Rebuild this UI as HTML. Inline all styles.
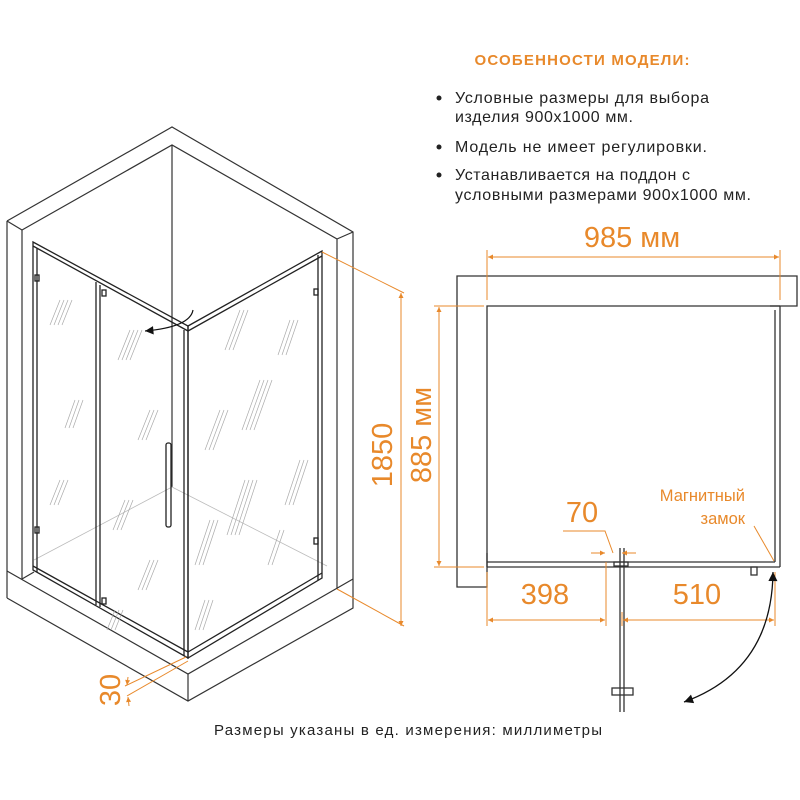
<!DOCTYPE html>
<html><head><meta charset="utf-8"><style>
html,body{margin:0;padding:0;background:#fff;}
svg{display:block;font-family:"Liberation Sans",sans-serif;}
</style></head><body>
<svg width="800" height="800" viewBox="0 0 800 800" xmlns="http://www.w3.org/2000/svg">
<defs>
<marker id="oa" viewBox="0 0 10 10" refX="10" refY="5" markerWidth="7" markerHeight="5" orient="auto-start-reverse"><path d="M0,0L10,5L0,10z" fill="#e8892b"/></marker>
<marker id="ba" viewBox="0 0 10 10" refX="10" refY="5" markerWidth="9" markerHeight="7" orient="auto-start-reverse"><path d="M0,0L10,5L0,10z" fill="#111"/></marker>
</defs>
<rect width="800" height="800" fill="#fff"/>
<!-- header texts -->
<text x="582" y="65" text-anchor="middle" font-size="15" font-weight="bold" fill="#e8892b" textLength="215">ОСОБЕННОСТИ МОДЕЛИ:</text>
<g font-size="16" fill="#222">
<circle cx="439" cy="98" r="2.5" fill="#222"/>
<text x="455" y="103" textLength="254">Условные размеры для выбора</text>
<text x="455" y="122" textLength="178">изделия 900x1000 мм.</text>
<circle cx="439" cy="147" r="2.5" fill="#222"/>
<text x="455" y="152" textLength="252">Модель не имеет регулировки.</text>
<circle cx="439" cy="175" r="2.5" fill="#222"/>
<text x="455" y="180" textLength="235">Устанавливается на поддон с</text>
<text x="455" y="200" textLength="296">условными размерами 900x1000 мм.</text>
</g>
<text x="408" y="735" text-anchor="middle" font-size="15" fill="#222" textLength="388">Размеры указаны в ед. измерения: миллиметры</text>

<!-- ISO drawing -->
<g fill="none" stroke="#333" stroke-width="1.2">
<polyline points="7,221 172,127 353,232 353,579"/>
<polyline points="22,230 172,145 337,239 337,589"/>
<line x1="7" y1="221" x2="22" y2="230"/>
<line x1="353" y1="232" x2="337" y2="239"/>
<line x1="172" y1="145" x2="172" y2="487"/>
<line x1="7" y1="221" x2="7" y2="598"/>
<line x1="22" y1="230" x2="22" y2="579"/>
<polyline points="7,571 188,674 353,579"/>
<polyline points="7,598 188,701 353,608 353,579"/>
<line x1="188" y1="674" x2="188" y2="701"/>
<line x1="22" y1="579" x2="34" y2="572"/>
</g>
<g fill="none" stroke="#bbb" stroke-width="0.8">
<line x1="172" y1="487" x2="34" y2="560"/>
<line x1="172" y1="487" x2="327" y2="566"/>
</g>
<!-- glass frames -->
<g fill="none" stroke="#222" stroke-width="1.3">
<polygon points="33,242 188,326 188,658 33,570"/>
<line x1="37" y1="248" x2="37" y2="572"/>
<polygon points="188,326 322,251 322,578 188,658"/>
<line x1="184" y1="330" x2="184" y2="656"/>
<line x1="318" y1="255" x2="318" y2="580"/>
<line x1="33" y1="246" x2="188" y2="331"/>
<line x1="188" y1="331" x2="322" y2="256"/>
<line x1="96" y1="282" x2="96" y2="605"/>
<line x1="100" y1="285" x2="100" y2="607"/>
<line x1="33" y1="566" x2="188" y2="652"/>
<line x1="188" y1="652" x2="322" y2="573"/>
<rect x="166" y="443" width="5" height="84" rx="2"/>
<rect x="35" y="275" width="4" height="6"/><rect x="35" y="527" width="4" height="6"/>
<rect x="314" y="289" width="4" height="6"/><rect x="314" y="538" width="4" height="6"/>
<rect x="102" y="290" width="4" height="6"/><rect x="102" y="598" width="4" height="6"/>
</g>
<!-- glass hatches -->
<g stroke="#aaa" stroke-width="0.7">
<path d="M60,300l-10,25M64,300l-10,25M68,300l-10,25M72,300l-10,25M75,400l-10,28M79,400l-10,28M83,400l-10,28M60,480l-10,25M64,480l-10,25M68,480l-10,25M130,330l-12,30M134,330l-12,30M138,330l-12,30M142,330l-12,30M150,410l-12,30M154,410l-12,30M158,410l-12,30M125,500l-12,30M129,500l-12,30M133,500l-12,30M150,560l-12,30M154,560l-12,30M158,560l-12,30M115,610l-8,20M119,610l-8,20M123,610l-8,20"/>
<path d="M240,310l-15,40M244,310l-15,40M248,310l-15,40M260,380l-18,50M264,380l-18,50M268,380l-18,50M272,380l-18,50M220,410l-15,40M224,410l-15,40M228,410l-15,40M290,320l-12,35M294,320l-12,35M298,320l-12,35M300,460l-15,45M304,460l-15,45M308,460l-15,45M245,480l-18,55M249,480l-18,55M253,480l-18,55M257,480l-18,55M210,520l-15,45M214,520l-15,45M218,520l-15,45M280,530l-12,35M284,530l-12,35M205,600l-10,30M209,600l-10,30M213,600l-10,30"/>
</g>
<!-- door arrow -->
<path d="M193,310 Q190,327 145,331" fill="none" stroke="#111" stroke-width="1.2" marker-end="url(#ba)"/>
<!-- orange dims iso -->
<g stroke="#e8892b" stroke-width="1" fill="none">
<line x1="322" y1="252" x2="404" y2="293"/>
<line x1="337" y1="589" x2="404" y2="626"/>
<line x1="401" y1="293" x2="401" y2="626" marker-start="url(#oa)" marker-end="url(#oa)"/>
<line x1="186" y1="657" x2="125" y2="686"/>
<line x1="188" y1="661" x2="127" y2="696"/>
<line x1="128" y1="677" x2="127" y2="685" marker-end="url(#oa)"/>
<line x1="129" y1="706" x2="128" y2="697" marker-end="url(#oa)"/>
</g>
<g fill="#e8892b" font-size="29">
<text transform="translate(392,455) rotate(-90)" text-anchor="middle">1850</text>
<text transform="translate(431,435) rotate(-90)" text-anchor="middle">885 мм</text>
<text transform="translate(120,690) rotate(-90)" text-anchor="middle">30</text>
</g>

<!-- PLAN -->
<g fill="none" stroke="#333" stroke-width="1.3">
<path d="M457,276 H797 V306 H487 V587 H457 Z"/>
<line x1="780" y1="306" x2="780" y2="567"/>
<line x1="775" y1="310" x2="775" y2="562"/>
<line x1="487" y1="567" x2="780" y2="567"/>
<line x1="487" y1="562" x2="775" y2="562"/>
<line x1="487" y1="553" x2="487" y2="567"/>
<line x1="770" y1="306" x2="780" y2="306"/>
<rect x="751" y="567" width="6" height="8"/>
<line x1="620" y1="548" x2="620" y2="712"/>
<line x1="624" y1="548" x2="624" y2="712"/>
<rect x="612" y="688" width="21" height="7"/>
<rect x="614" y="562" width="14" height="4"/>
</g>
<!-- plan dims -->
<g stroke="#e8892b" stroke-width="1" fill="none">
<line x1="487" y1="250" x2="487" y2="300"/>
<line x1="780" y1="250" x2="780" y2="300"/>
<line x1="488" y1="257" x2="779" y2="257" marker-start="url(#oa)" marker-end="url(#oa)"/>
<line x1="434" y1="306" x2="484" y2="306"/>
<line x1="434" y1="567" x2="484" y2="567"/>
<line x1="439" y1="307" x2="439" y2="566" marker-start="url(#oa)" marker-end="url(#oa)"/>
<line x1="487" y1="572" x2="487" y2="626"/>
<line x1="606" y1="562" x2="606" y2="626"/>
<line x1="622" y1="612" x2="622" y2="626"/>
<line x1="775" y1="572" x2="775" y2="626"/>
<line x1="488" y1="620" x2="605" y2="620" marker-start="url(#oa)" marker-end="url(#oa)"/>
<line x1="623" y1="620" x2="774" y2="620" marker-start="url(#oa)" marker-end="url(#oa)"/>
<polyline points="563,531 605,531 613,553"/>
<line x1="591" y1="553" x2="605" y2="553" marker-end="url(#oa)"/>
<line x1="636" y1="553" x2="622" y2="553" marker-end="url(#oa)"/>
<line x1="754" y1="526" x2="774" y2="561"/>
</g>
<g fill="#e8892b">
<text x="632" y="247" text-anchor="middle" font-size="29">985 мм</text>
<text x="545" y="604" text-anchor="middle" font-size="29">398</text>
<text x="697" y="604" text-anchor="middle" font-size="29">510</text>
<text x="582" y="522" text-anchor="middle" font-size="29">70</text>
<text x="745" y="501" text-anchor="end" font-size="16.5">Магнитный</text>
<text x="745" y="524" text-anchor="end" font-size="16.5">замок</text>
</g>
<path d="M773,572 Q772,670 684,702" fill="none" stroke="#111" stroke-width="1.3" marker-start="url(#ba)" marker-end="url(#ba)"/>
</svg>
</body></html>
